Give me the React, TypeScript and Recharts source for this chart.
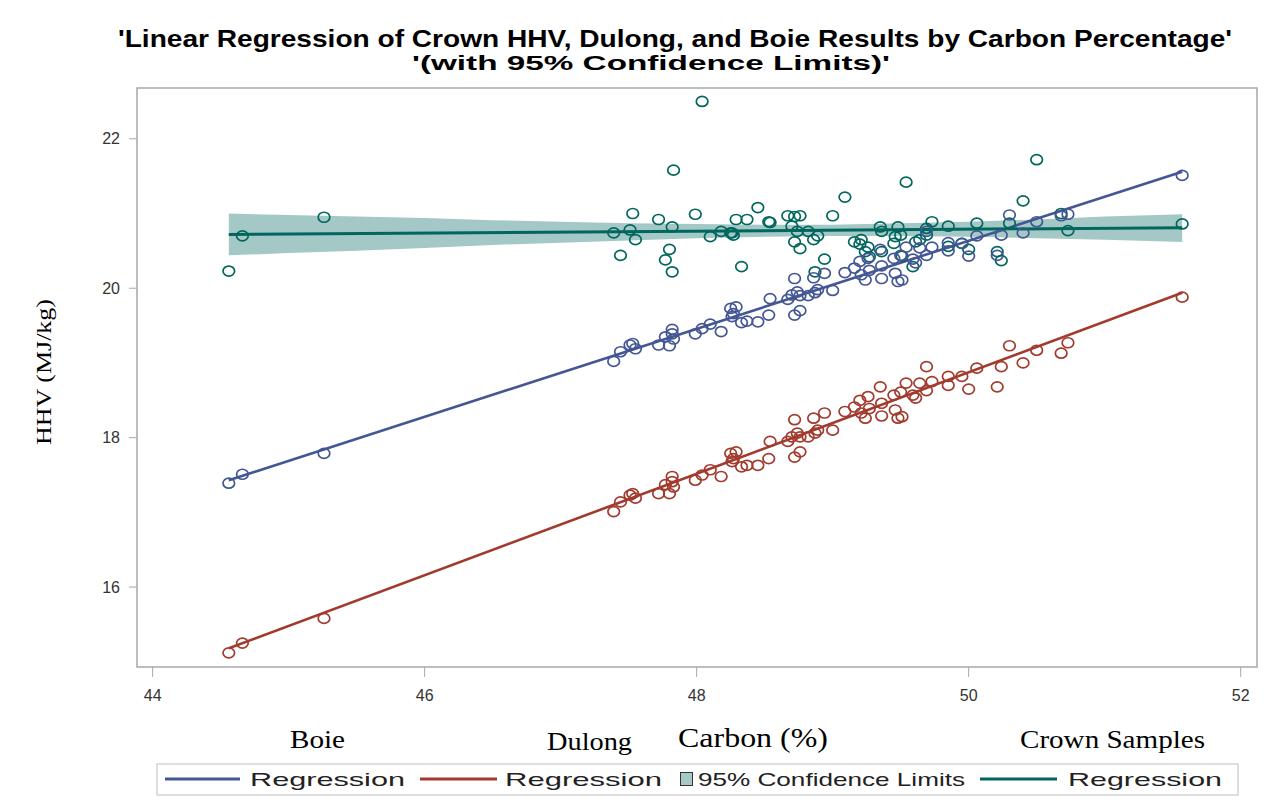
import { ComposedChart, XAxis, YAxis, Scatter, Area, ReferenceLine } from "recharts";

// carbon % of each crown sample (shared by all three series)
const carbon = [
  44.56, 44.66, 45.26, 47.39, 47.44, 47.51, 47.53, 47.55, 47.72, 47.77, 47.8, 47.82, 47.82, 47.83,
  47.99, 48.04, 48.1, 48.18, 48.25, 48.27, 48.29, 48.26, 48.33, 48.37, 48.45, 48.53, 48.54, 48.67,
  48.7, 48.72, 48.74, 48.76, 48.72, 48.76, 48.82, 48.86, 48.87, 48.89, 48.94, 49.0, 49.09, 49.16,
  49.2, 49.21, 49.24, 49.26, 49.27, 49.35, 49.36, 49.36, 49.45, 49.46, 49.48, 49.5, 49.51, 49.54,
  49.59, 49.61, 49.64, 49.69, 49.69, 49.73, 49.85, 49.85, 49.95, 50.0, 50.06, 50.21, 50.24, 50.3,
  50.4, 50.5, 50.68, 50.73, 51.57,
];

const dulong = [
  15.12, 15.25, 15.58, 17.01, 17.14, 17.23, 17.25, 17.19, 17.25, 17.37, 17.25, 17.48, 17.41, 17.34,
  17.43, 17.5, 17.57, 17.48, 17.79, 17.72, 17.81, 17.68, 17.61, 17.63, 17.63, 17.72, 17.95, 17.95,
  18.01, 18.24, 18.06, 18.01, 17.74, 17.81, 18.01, 18.26, 18.06, 18.1, 18.33, 18.1, 18.35, 18.41,
  18.5, 18.33, 18.26, 18.55, 18.39, 18.68, 18.46, 18.29, 18.57, 18.37, 18.26, 18.61, 18.28, 18.73,
  18.57, 18.53, 18.73, 18.95, 18.63, 18.75, 18.82, 18.7, 18.82, 18.65, 18.93, 18.68, 18.95, 19.23,
  19.0, 19.17, 19.13, 19.27, 19.88,
];

const boie = [
  17.39, 17.51, 17.79, 19.02, 19.15, 19.24, 19.26, 19.19, 19.24, 19.35, 19.23, 19.45, 19.39, 19.32,
  19.39, 19.46, 19.52, 19.42, 19.73, 19.66, 19.75, 19.62, 19.54, 19.56, 19.55, 19.64, 19.86, 19.85,
  19.91, 20.13, 19.95, 19.9, 19.64, 19.7, 19.9, 20.14, 19.94, 19.98, 20.2, 19.97, 20.21, 20.27,
  20.36, 20.18, 20.11, 20.4, 20.24, 20.52, 20.3, 20.13, 20.4, 20.2, 20.09, 20.44, 20.11, 20.55,
  20.39, 20.34, 20.54, 20.76, 20.44, 20.55, 20.61, 20.5, 20.6, 20.43, 20.7, 20.44, 20.71, 20.98,
  20.74, 20.89, 20.97, 20.99, 21.51,
];

const crown = [
  20.23, 20.7, 20.95, 20.74, 20.44, 20.78, 21.0, 20.65, 20.92, 20.38, 20.52, 20.22, 20.82, 21.58,
  20.99, 22.5, 20.69, 20.76, 20.74, 20.71, 20.92, 20.74, 20.29, 20.92, 21.08, 20.89, 20.88, 20.97,
  20.83, 20.96, 20.76, 20.97, 20.62, 20.53, 20.76, 20.65, 20.22, 20.7, 20.39, 20.97, 21.22, 20.62,
  20.59, 20.65, 20.49, 20.55, 20.42, 20.82, 20.49, 20.76, 20.6, 20.69, 20.82, 20.71, 20.43, 21.42,
  20.29, 20.62, 20.65, 20.8, 20.71, 20.89, 20.83, 20.56, 20.6, 20.52, 20.87, 20.49, 20.37, 20.87,
  21.17, 21.72, 21.0, 20.77, 20.86,
];

// regression line end points
const boieFit = [{ x: 44.56, y: 17.43 }, { x: 51.57, y: 21.56 }];
const dulongFit = [{ x: 44.56, y: 15.18 }, { x: 51.57, y: 19.94 }];
const crownFit = [{ x: 44.56, y: 20.72 }, { x: 51.57, y: 20.81 }];

// 95% confidence limits of crown regression
const bandX = [44.56, 45, 45.5, 46, 46.5, 47, 47.5, 48, 48.5, 49, 49.5, 50, 50.5, 51, 51.57];
const bandLow = [20.44, 20.47, 20.5, 20.54, 20.58, 20.61, 20.64, 20.67, 20.69, 20.7, 20.7, 20.69, 20.67, 20.65, 20.62];
const bandHigh = [21.0, 20.98, 20.96, 20.94, 20.91, 20.89, 20.87, 20.86, 20.85, 20.85, 20.87, 20.89, 20.92, 20.96, 20.99];

const xTicks = [44, 46, 48, 50, 52];
const yTicks = [16, 18, 20, 22];

const BLUE = "#445694";
const RED = "#A23A2E";
const GREEN = "#01665E";
const FRAME = "#a3a9ad";
const SANS = "'Liberation Sans', Arial, sans-serif";
const SERIF = "'Liberation Serif', 'Times New Roman', serif";

const ring = (color: string) => (p: any) =>
  <ellipse cx={p.cx} cy={p.cy} rx={5.8} ry={5} fill="none" stroke={color} strokeWidth={1.7} />;

export default function App() {
  const boieData = carbon.map((x, i) => ({ x, y: boie[i] }));
  const dulongData = carbon.map((x, i) => ({ x, y: dulong[i] }));
  const crownData = carbon.map((x, i) => ({ x, y: crown[i] }));
  const band = bandX.map((x, i) => ({ x, range: [bandLow[i], bandHigh[i]] }));

  const tick = { fontSize: 16, fill: "#333", fontFamily: SANS };

  return (
    <div style={{ position: "absolute", left: 0, top: 0, width: 1276, height: 810, background: "#fff" }}>
      <ComposedChart
        width={1276}
        height={810}
        margin={{ top: 88, right: 19, bottom: 113, left: 77 }}
      >
        <XAxis
          type="number"
          dataKey="x"
          domain={[43.885, 52.12]}
          ticks={xTicks}
          allowDataOverflow
          height={30}
          axisLine={false}
          stroke={FRAME}
          tickSize={10}
          tickMargin={13}
          tick={tick}
        />
        <YAxis
          type="number"
          dataKey="y"
          domain={[14.93, 22.68]}
          ticks={yTicks}
          allowDataOverflow
          width={60}
          axisLine={false}
          stroke={FRAME}
          tickSize={8}
          tickMargin={9}
          tick={tick}
        />
        <Area
          data={band}
          dataKey="range"
          type="linear"
          stroke="none"
          fill={GREEN}
          fillOpacity={0.36}
          isAnimationActive={false}
        />
        <ReferenceLine segment={boieFit} stroke={BLUE} strokeWidth={2.6} />
        <ReferenceLine segment={dulongFit} stroke={RED} strokeWidth={2.6} />
        <ReferenceLine segment={crownFit} stroke={GREEN} strokeWidth={3} />
        <Scatter data={crownData} dataKey="y" shape={ring(GREEN)} isAnimationActive={false} />
        <Scatter data={boieData} dataKey="y" shape={ring(BLUE)} isAnimationActive={false} />
        <Scatter data={dulongData} dataKey="y" shape={ring(RED)} isAnimationActive={false} />
      </ComposedChart>

      <svg width={1276} height={810} style={{ position: "absolute", left: 0, top: 0, pointerEvents: "none" }}>
        {/* plot frame */}
        <rect x={137} y={88} width={1120} height={579} fill="none" stroke={FRAME} strokeWidth={1.5} />

        <text x={118} y={47} fontFamily={SANS} fontWeight="bold" fontSize={24} textLength={1114} lengthAdjust="spacingAndGlyphs" fill="#000">
          'Linear Regression of Crown HHV, Dulong, and Boie Results by Carbon Percentage'
        </text>
        <text x={412} y={70} fontFamily={SANS} fontWeight="bold" fontSize={20} textLength={478} lengthAdjust="spacingAndGlyphs" fill="#000">
          '(with 95% Confidence Limits)'
        </text>
        <text transform="translate(51,372) rotate(-90)" textAnchor="middle" fontFamily={SERIF} fontSize={22} textLength={146} lengthAdjust="spacingAndGlyphs" fill="#000">
          HHV  (MJ/kg)
        </text>
        <text x={290} y={748} fontFamily={SERIF} fontSize={25} textLength={55} lengthAdjust="spacingAndGlyphs">Boie</text>
        <text x={547} y={750} fontFamily={SERIF} fontSize={25} textLength={85} lengthAdjust="spacingAndGlyphs">Dulong</text>
        <text x={678} y={747} fontFamily={SERIF} fontSize={27} textLength={150} lengthAdjust="spacingAndGlyphs">Carbon (%)</text>
        <text x={1020} y={748} fontFamily={SERIF} fontSize={25} textLength={185} lengthAdjust="spacingAndGlyphs">Crown Samples</text>

        <rect x={157} y={764} width={1081} height={31} fill="none" stroke="#bdbdbd" />
        <line x1={165} x2={240} y1={779} y2={779} stroke={BLUE} strokeWidth={3} />
        <text x={250} y={786} fontFamily={SANS} fontSize={19} textLength={155} lengthAdjust="spacingAndGlyphs" fill="#222">Regression</text>
        <line x1={420} x2={497} y1={779} y2={779} stroke={RED} strokeWidth={3} />
        <text x={505} y={786} fontFamily={SANS} fontSize={19} textLength={157} lengthAdjust="spacingAndGlyphs" fill="#222">Regression</text>
        <rect x={680.5} y={772.5} width={12} height={13} fill="#a6c9c5" stroke="#333" />
        <text x={698} y={786} fontFamily={SANS} fontSize={19} textLength={267} lengthAdjust="spacingAndGlyphs" fill="#222">95% Confidence Limits</text>
        <line x1={980} x2={1057} y1={779} y2={779} stroke={GREEN} strokeWidth={3} />
        <text x={1068} y={786} fontFamily={SANS} fontSize={19} textLength={154} lengthAdjust="spacingAndGlyphs" fill="#222">Regression</text>
      </svg>
    </div>
  );
}
